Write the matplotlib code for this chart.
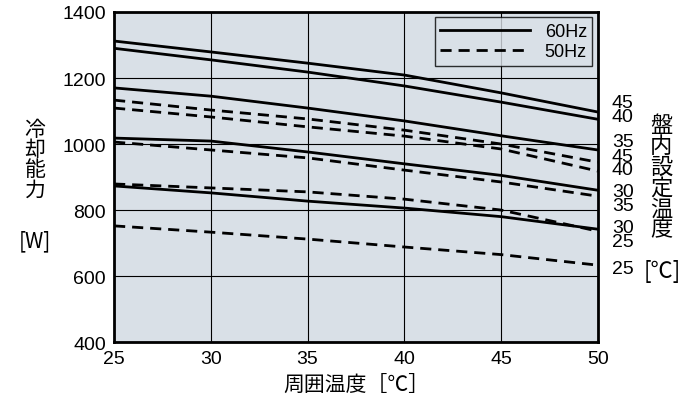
import matplotlib
matplotlib.use("Agg")
import matplotlib.pyplot as plt

plt.rcParams["font.family"] = ["Liberation Sans", "Noto Sans CJK JP"]
x = [25, 30, 35, 40, 45, 50]
hz60 = {
    "45": [1312, 1279, 1245, 1209, 1155, 1097],
    "40": [1290, 1255, 1218, 1176, 1127, 1075],
    "35": [1170, 1145, 1109, 1070, 1025, 982],
    "30": [1018, 1009, 976, 940, 905, 860],
    "25": [873, 852, 827, 806, 780, 742],
}
hz50 = {
    "45": [1133, 1103, 1076, 1042, 1000, 945],
    "40": [1109, 1082, 1052, 1024, 985, 918],
    "35": [1006, 982, 958, 921, 885, 842],
    "30": [879, 867, 855, 833, 800, 736],
    "25": [752, 733, 712, 688, 665, 633],
}
yticks = [400, 600, 800, 1000, 1200, 1400]
right_labels = ["45", "40", "35", "45", "40", "30", "35", "30", "25", "25"]

W, H = 700, 406
fig = plt.figure(figsize=(7, 4.06), dpi=100)
ax = fig.add_axes([0.163, 0.155, 0.691, 0.813])
ax.set_facecolor("#d9e0e7")
for i, (k, v) in enumerate(hz60.items()):
    ax.plot(x, v, "k-", lw=2, label="60Hz" if i == 0 else None)
for i, (k, v) in enumerate(hz50.items()):
    ax.plot(x, v, "k--", lw=2, dashes=(4, 2.5), label="50Hz" if i == 0 else None)
ax.set_xlim(25, 50)
ax.set_ylim(400, 1400)
ax.set_xticks(x)
ax.set_yticks(yticks)
ax.grid(color="black", lw=0.8)
ax.tick_params(length=0, labelsize=14, pad=6)
for s in ax.spines.values():
    s.set_linewidth(2)
leg = ax.legend(loc="upper right", fontsize=13, frameon=True, fancybox=False,
                edgecolor="black", facecolor="#d9e0e7", handlelength=5,
                borderaxespad=0.3, borderpad=0.3, labelspacing=0.2)
leg.get_frame().set_linewidth(1)
ax.set_xlabel("周囲温度［℃］", fontsize=15, labelpad=4, family="Noto Sans CJK JP")
fig.text(35 / W, 1 - 160 / H, "冷\n却\n能\n力", fontsize=15, ha="center", va="center",
         linespacing=0.9, family="Noto Sans CJK JP")
fig.text(35 / W, 1 - 241 / H, "[W]", fontsize=15, ha="center", va="center", family="Noto Sans CJK JP")

ys = [104, 118, 143, 157, 171, 193, 207, 229, 243, 270]
for t, yp in zip(right_labels, ys):
    fig.text(612 / W, 1 - yp / H, t, fontsize=14, ha="left", va="center")
fig.text(661 / W, 1 - 178 / H, "盤\n内\n設\n定\n温\n度", fontsize=16, ha="center", va="center",
         linespacing=0.88, family="Noto Sans CJK JP")
fig.text(662 / W, 1 - 272 / H, "[℃]", fontsize=16, ha="center", va="center", family="Noto Sans CJK JP")
fig.savefig("out.png", dpi=100)
